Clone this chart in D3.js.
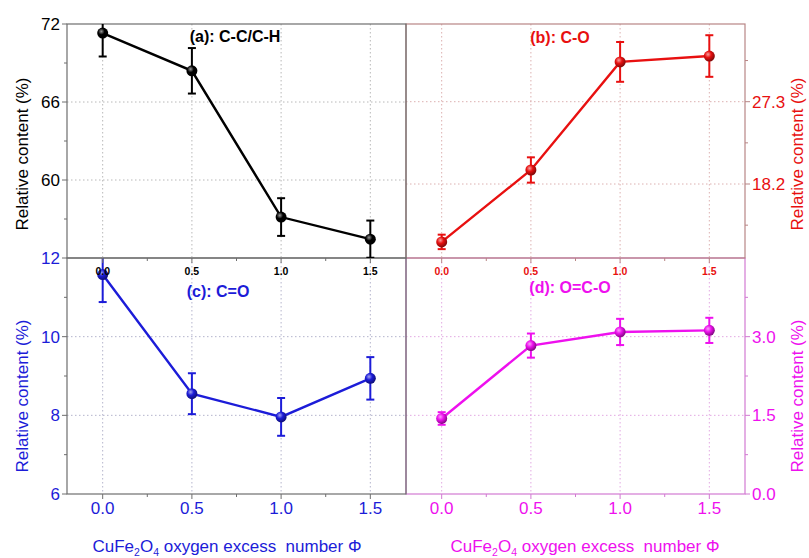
<!DOCTYPE html>
<html>
<head>
<meta charset="utf-8">
<script src="https://cdn.jsdelivr.net/npm/d3@7"></script>
<style>
	body { margin: 0; background: #fff; }
	svg { display: block; font-family: "Liberation Sans", Arial, sans-serif; }
</style>
</head>
<body>
<script>

// oxygen excess number (x values)
var phi = [0.0, 0.5, 1.0, 1.5]

// (a) C-C/C-H
var ccch = [71.3, 68.4, 57.15, 55.45]
var ccchErr = [1.8, 1.75, 1.45, 1.43]
// (b) C-O
var co = [11.8, 19.75, 31.7, 32.35]
var coErr = [0.8, 1.4, 2.2, 2.3]
// (c) C=O
var cdo = [11.58, 8.55, 7.96, 8.94]
var cdoErr = [0.7, 0.52, 0.48, 0.54]
// (d) O=C-O
var ocdo = [1.44, 2.83, 3.09, 3.12]
var ocdoErr = [0.12, 0.23, 0.25, 0.24]

// tick labels
var xTicks = [0.0, 0.5, 1.0, 1.5]
var xMinor = [0.25, 0.75, 1.25]
var aTicks = [60, 66, 72]
var aMinor = [57, 63, 69]
var bTicks = [18.2, 27.3]
var bMinor = [13.65, 22.75, 31.85]
var cTicks = [6, 8, 10, 12]
var cMinor = [7, 9, 11]
var dTicks = [0.0, 1.5, 3.0]
var dMinor = [0.75, 2.25, 3.75]

var W = 809, H = 558
var svg = d3.select('body').append('svg')
	.attr('width', W)
	.attr('height', H)

var defs = svg.append('defs')

var xLeft = d3.scaleLinear().domain([-0.2, 1.7]).range([67, 406])
var xRight = d3.scaleLinear().domain([-0.2, 1.7]).range([406, 745])
var yTop = [258, 24]
var yBot = [494, 258]

var panels = [
	{ id: 'd', x: xRight, y: d3.scaleLinear().domain([0, 4.5]).range(yBot), vals: ocdo, err: ocdoErr,
	  color: '#ee10ee', frame: '#d27ad2', grid: '#e2a8e2', side: 'right', ticks: dTicks, minor: dMinor,
	  fmt: d3.format('.1f'), label: '(d): O=C-O', lx: 570, ly: 287, bottomLabels: true },
	{ id: 'b', x: xRight, y: d3.scaleLinear().domain([10.02, 35.89]).range(yTop), vals: co, err: coErr,
	  color: '#e81010', frame: '#b88585', grid: '#dcb0b0', side: 'right', ticks: bTicks, minor: bMinor,
	  fmt: d3.format('.1f'), label: '(b): C-O', lx: 560, ly: 37, bottomLabels: false },
	{ id: 'c', x: xLeft, y: d3.scaleLinear().domain([6, 12]).range(yBot), vals: cdo, err: cdoErr,
	  color: '#1c1cd8', frame: '#6e6e6e', grid: '#b4b4cc', side: 'left', ticks: cTicks, minor: cMinor,
	  fmt: d3.format('d'), label: '(c): C=O', lx: 218, ly: 291, bottomLabels: true },
	{ id: 'a', x: xLeft, y: d3.scaleLinear().domain([54, 72]).range(yTop), vals: ccch, err: ccchErr,
	  color: '#000000', frame: '#6e6e6e', grid: '#b8b8b8', side: 'left', ticks: aTicks, minor: aMinor,
	  fmt: d3.format('d'), label: '(a): C-C/C-H', lx: 235, ly: 36, bottomLabels: false }
]

panels.forEach(function(p) {
	var x0 = p.x.range()[0], x1 = p.x.range()[1]
	var y0 = p.y.range()[1], y1 = p.y.range()[0]
	var g = svg.append('g').attr('class', 'panel-' + p.id)

	// clip for data
	defs.append('clipPath').attr('id', 'clip-' + p.id)
		.append('rect').attr('x', x0).attr('y', y0).attr('width', x1 - x0).attr('height', y1 - y0)

	// sphere shading
	var grad = defs.append('radialGradient').attr('id', 'ball-' + p.id)
		.attr('cx', '0.38').attr('cy', '0.35').attr('r', '0.65')
	grad.append('stop').attr('offset', '0%').attr('stop-color', d3.interpolateRgb(p.color, '#fff')(0.6))
	grad.append('stop').attr('offset', '45%').attr('stop-color', p.color)
	grad.append('stop').attr('offset', '100%').attr('stop-color', d3.interpolateRgb(p.color, '#000')(0.45))

	// grid lines
	g.selectAll('.vgrid').data(xTicks).enter().append('line')
		.attr('x1', d => p.x(d)).attr('x2', d => p.x(d))
		.attr('y1', y0).attr('y2', y1)
		.style('stroke', p.grid).style('stroke-width', 1).style('stroke-dasharray', '1.5,2.5')
	g.selectAll('.hgrid').data(p.ticks.filter(d => p.y(d) > y0 + 1 && p.y(d) < y1 - 1)).enter().append('line')
		.attr('x1', x0).attr('x2', x1)
		.attr('y1', d => p.y(d)).attr('y2', d => p.y(d))
		.style('stroke', p.grid).style('stroke-width', 1).style('stroke-dasharray', '1.5,2.5')

	// frame
	g.append('rect').attr('x', x0).attr('y', y0).attr('width', x1 - x0).attr('height', y1 - y0)
		.attr('fill', 'none').style('stroke', p.frame).style('stroke-width', 1.2)

	// bottom ticks (outward)
	g.selectAll('.xt').data(xTicks).enter().append('line')
		.attr('x1', d => p.x(d)).attr('x2', d => p.x(d))
		.attr('y1', y1).attr('y2', y1 + 5).style('stroke', p.frame)
	g.selectAll('.xm').data(xMinor).enter().append('line')
		.attr('x1', d => p.x(d)).attr('x2', d => p.x(d))
		.attr('y1', y1).attr('y2', y1 + 3).style('stroke', p.frame)

	// y ticks
	var ax = p.side == 'left' ? x0 : x1
	var dir = p.side == 'left' ? -1 : 1
	g.selectAll('.yt').data(p.ticks).enter().append('line')
		.attr('x1', ax).attr('x2', ax + dir * 5)
		.attr('y1', d => p.y(d)).attr('y2', d => p.y(d)).style('stroke', p.frame)
	g.selectAll('.ym').data(p.minor).enter().append('line')
		.attr('x1', ax).attr('x2', ax + dir * 3)
		.attr('y1', d => p.y(d)).attr('y2', d => p.y(d)).style('stroke', p.frame)

	// y tick labels (top panels skip the bottom one, it is shared)
	var labTicks = p.ticks.filter(d => p.y(d) > y0 - 1)
	if (p.id == 'a') labTicks = p.ticks
	g.selectAll('.yl').data(labTicks).enter().append('text')
		.attr('x', ax + dir * 7)
		.attr('y', d => p.y(d))
		.attr('dy', '0.36em')
		.attr('text-anchor', p.side == 'left' ? 'end' : 'start')
		.style('font-size', '17px')
		.style('fill', p.color)
		.text(d => p.fmt(d))

	// x tick labels
	if (p.bottomLabels) {
		g.selectAll('.xl').data(xTicks).enter().append('text')
			.attr('x', d => p.x(d)).attr('y', y1 + 20)
			.attr('text-anchor', 'middle')
			.style('font-size', '17px').style('fill', p.color)
			.text(d => d.toFixed(1))
	} else {
		g.selectAll('.xl').data(xTicks).enter().append('text')
			.attr('x', d => p.x(d)).attr('y', y1 + 17)
			.attr('text-anchor', 'middle')
			.style('font-size', '10.5px').style('font-weight', 'bold')
			.style('font-family', '"Liberation Sans Narrow", "Liberation Sans", Arial, sans-serif')
			.style('fill', p.color)
			.text(d => d.toFixed(1))
	}

	// axis title (right side pulled in a bit so it stays on the page)
	var tx = p.side == 'left' ? 22 : 797
	var ty = p.id == 'a' || p.id == 'b' ? 154 : 396
	g.append('text')
		.attr('transform', 'translate(' + tx + ',' + ty + ') rotate(-90)')
		.attr('text-anchor', 'middle')
		.attr('dy', '0.35em')
		.style('font-size', '17px').style('fill', p.color)
		.text('Relative content (%)')

	// panel label
	g.append('text')
		.attr('x', p.lx).attr('y', p.ly)
		.attr('text-anchor', 'middle').attr('dy', '0.35em')
		.style('font-size', '16px').style('font-weight', 'bold').style('fill', p.color)
		.text(p.label)

	// data
	var dg = g.append('g').attr('clip-path', 'url(#clip-' + p.id + ')')
	var line = d3.line().x((d, i) => p.x(phi[i])).y(d => p.y(d))
	dg.append('path').datum(p.vals)
		.attr('d', line).attr('fill', 'none')
		.style('stroke', p.color).style('stroke-width', 2.4)

	var eb = dg.selectAll('.err').data(p.vals).enter().append('g')
	eb.append('line')
		.attr('x1', (d, i) => p.x(phi[i])).attr('x2', (d, i) => p.x(phi[i]))
		.attr('y1', (d, i) => p.y(d + p.err[i])).attr('y2', (d, i) => p.y(d - p.err[i]))
		.style('stroke', p.color).style('stroke-width', 2)
	eb.append('line')
		.attr('x1', (d, i) => p.x(phi[i]) - 4).attr('x2', (d, i) => p.x(phi[i]) + 4)
		.attr('y1', (d, i) => p.y(d + p.err[i])).attr('y2', (d, i) => p.y(d + p.err[i]))
		.style('stroke', p.color).style('stroke-width', 2)
	eb.append('line')
		.attr('x1', (d, i) => p.x(phi[i]) - 4).attr('x2', (d, i) => p.x(phi[i]) + 4)
		.attr('y1', (d, i) => p.y(d - p.err[i])).attr('y2', (d, i) => p.y(d - p.err[i]))
		.style('stroke', p.color).style('stroke-width', 2)

	dg.selectAll('.pt').data(p.vals).enter().append('circle')
		.attr('cx', (d, i) => p.x(phi[i]))
		.attr('cy', d => p.y(d))
		.attr('r', 5.5)
		.attr('fill', 'url(#ball-' + p.id + ')')
})

// x axis titles
function xTitle(cx, color) {
	var t = svg.append('text')
		.attr('x', cx).attr('y', 546)
		.attr('text-anchor', 'middle')
		.attr('dy', '0.35em')
		.style('font-size', '17px').style('fill', color)
		.style('white-space', 'pre')
	t.append('tspan').text('CuFe')
	t.append('tspan').attr('dy', '4').style('font-size', '10.5px').text('2')
	t.append('tspan').attr('dy', '-4').text('O')
	t.append('tspan').attr('dy', '4').style('font-size', '10.5px').text('4')
	t.append('tspan').attr('dy', '-4').text(' oxygen excess  number \u03A6')
}
xTitle(227, '#1c1cd8')
xTitle(585, '#ee10ee')

</script>
</body>
</html>
